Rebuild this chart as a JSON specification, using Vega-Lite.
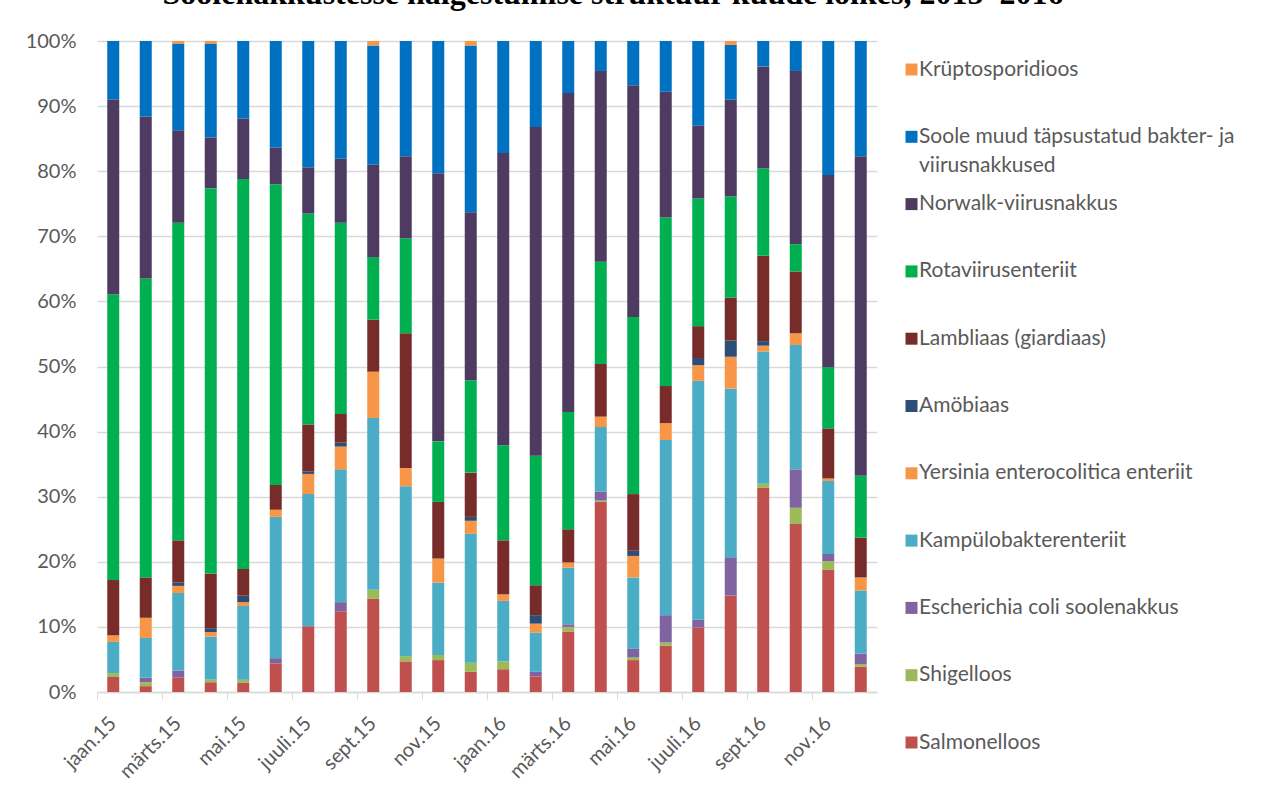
{
  "$schema": "https://vega.github.io/schema/vega-lite/v6.json",
  "width": 780,
  "height": 651,
  "autosize": {"type": "none"},
  "padding": {"left": 97, "top": 41, "right": 384, "bottom": 108},
  "background": "white",
  "title": {
    "text": "Soolenakkustesse haigestumise struktuur kuude lõikes, 2015–2016",
    "font": "Liberation Serif",
    "fontSize": 32,
    "fontWeight": "bold",
    "color": "black",
    "anchor": "middle",
    "dx": 126,
    "offset": 20
  },
  "data": {
    "values": [
      {"kuu": "jaan.15", "Salmonelloos": 2.3, "Shigelloos": 0.6, "Escherichia coli soolenakkus": 0, "Kampülobakterenteriit": 4.8, "Yersinia enterocolitica enteriit": 1.0, "Amöbiaas": 0, "Lambliaas (giardiaas)": 8.5, "Rotaviirusenteriit": 43.9, "Norwalk-viirusnakkus": 29.9, "Soole muud täpsustatud bakter- ja viirusnakkused": 9.0, "Krüptosporidioos": 0},
      {"kuu": "veebr.15", "Salmonelloos": 0.9, "Shigelloos": 0.6, "Escherichia coli soolenakkus": 0.7, "Kampülobakterenteriit": 6.1, "Yersinia enterocolitica enteriit": 3.1, "Amöbiaas": 0, "Lambliaas (giardiaas)": 6.2, "Rotaviirusenteriit": 45.9, "Norwalk-viirusnakkus": 24.9, "Soole muud täpsustatud bakter- ja viirusnakkused": 11.6, "Krüptosporidioos": 0},
      {"kuu": "märts.15", "Salmonelloos": 2.2, "Shigelloos": 0, "Escherichia coli soolenakkus": 1.1, "Kampülobakterenteriit": 11.9, "Yersinia enterocolitica enteriit": 1.1, "Amöbiaas": 0.5, "Lambliaas (giardiaas)": 6.5, "Rotaviirusenteriit": 48.8, "Norwalk-viirusnakkus": 14.2, "Soole muud täpsustatud bakter- ja viirusnakkused": 13.3, "Krüptosporidioos": 0.4},
      {"kuu": "apr.15", "Salmonelloos": 1.5, "Shigelloos": 0.4, "Escherichia coli soolenakkus": 0, "Kampülobakterenteriit": 6.6, "Yersinia enterocolitica enteriit": 0.7, "Amöbiaas": 0.6, "Lambliaas (giardiaas)": 8.4, "Rotaviirusenteriit": 59.2, "Norwalk-viirusnakkus": 7.8, "Soole muud täpsustatud bakter- ja viirusnakkused": 14.4, "Krüptosporidioos": 0.4},
      {"kuu": "mai.15", "Salmonelloos": 1.4, "Shigelloos": 0.5, "Escherichia coli soolenakkus": 0, "Kampülobakterenteriit": 11.3, "Yersinia enterocolitica enteriit": 0.6, "Amöbiaas": 1.0, "Lambliaas (giardiaas)": 4.1, "Rotaviirusenteriit": 59.9, "Norwalk-viirusnakkus": 9.3, "Soole muud täpsustatud bakter- ja viirusnakkused": 11.9, "Krüptosporidioos": 0},
      {"kuu": "juuni.15", "Salmonelloos": 4.4, "Shigelloos": 0, "Escherichia coli soolenakkus": 0.8, "Kampülobakterenteriit": 21.7, "Yersinia enterocolitica enteriit": 1.1, "Amöbiaas": 0, "Lambliaas (giardiaas)": 3.8, "Rotaviirusenteriit": 46.2, "Norwalk-viirusnakkus": 5.6, "Soole muud täpsustatud bakter- ja viirusnakkused": 16.4, "Krüptosporidioos": 0},
      {"kuu": "juuli.15", "Salmonelloos": 10.1, "Shigelloos": 0, "Escherichia coli soolenakkus": 0, "Kampülobakterenteriit": 20.3, "Yersinia enterocolitica enteriit": 3.1, "Amöbiaas": 0.4, "Lambliaas (giardiaas)": 7.2, "Rotaviirusenteriit": 32.4, "Norwalk-viirusnakkus": 7.1, "Soole muud täpsustatud bakter- ja viirusnakkused": 19.4, "Krüptosporidioos": 0},
      {"kuu": "aug.15", "Salmonelloos": 12.4, "Shigelloos": 0, "Escherichia coli soolenakkus": 1.4, "Kampülobakterenteriit": 20.4, "Yersinia enterocolitica enteriit": 3.5, "Amöbiaas": 0.6, "Lambliaas (giardiaas)": 4.4, "Rotaviirusenteriit": 29.4, "Norwalk-viirusnakkus": 9.8, "Soole muud täpsustatud bakter- ja viirusnakkused": 18.1, "Krüptosporidioos": 0},
      {"kuu": "sept.15", "Salmonelloos": 14.3, "Shigelloos": 1.4, "Escherichia coli soolenakkus": 0, "Kampülobakterenteriit": 26.4, "Yersinia enterocolitica enteriit": 7.1, "Amöbiaas": 0, "Lambliaas (giardiaas)": 8.0, "Rotaviirusenteriit": 9.6, "Norwalk-viirusnakkus": 14.2, "Soole muud täpsustatud bakter- ja viirusnakkused": 18.3, "Krüptosporidioos": 0.7},
      {"kuu": "okt.15", "Salmonelloos": 4.7, "Shigelloos": 0.8, "Escherichia coli soolenakkus": 0, "Kampülobakterenteriit": 26.1, "Yersinia enterocolitica enteriit": 2.8, "Amöbiaas": 0, "Lambliaas (giardiaas)": 20.7, "Rotaviirusenteriit": 14.6, "Norwalk-viirusnakkus": 12.6, "Soole muud täpsustatud bakter- ja viirusnakkused": 17.7, "Krüptosporidioos": 0},
      {"kuu": "nov.15", "Salmonelloos": 4.9, "Shigelloos": 0.8, "Escherichia coli soolenakkus": 0, "Kampülobakterenteriit": 11.1, "Yersinia enterocolitica enteriit": 3.7, "Amöbiaas": 0, "Lambliaas (giardiaas)": 8.7, "Rotaviirusenteriit": 9.3, "Norwalk-viirusnakkus": 41.2, "Soole muud täpsustatud bakter- ja viirusnakkused": 20.3, "Krüptosporidioos": 0},
      {"kuu": "dets.15", "Salmonelloos": 3.1, "Shigelloos": 1.4, "Escherichia coli soolenakkus": 0, "Kampülobakterenteriit": 19.8, "Yersinia enterocolitica enteriit": 2.0, "Amöbiaas": 0.6, "Lambliaas (giardiaas)": 6.8, "Rotaviirusenteriit": 14.2, "Norwalk-viirusnakkus": 25.8, "Soole muud täpsustatud bakter- ja viirusnakkused": 25.6, "Krüptosporidioos": 0.7},
      {"kuu": "jaan.16", "Salmonelloos": 3.5, "Shigelloos": 1.2, "Escherichia coli soolenakkus": 0, "Kampülobakterenteriit": 9.3, "Yersinia enterocolitica enteriit": 1.0, "Amöbiaas": 0, "Lambliaas (giardiaas)": 8.3, "Rotaviirusenteriit": 14.6, "Norwalk-viirusnakkus": 44.9, "Soole muud täpsustatud bakter- ja viirusnakkused": 17.2, "Krüptosporidioos": 0},
      {"kuu": "veebr.16", "Salmonelloos": 2.4, "Shigelloos": 0, "Escherichia coli soolenakkus": 0.7, "Kampülobakterenteriit": 6.0, "Yersinia enterocolitica enteriit": 1.4, "Amöbiaas": 1.3, "Lambliaas (giardiaas)": 4.6, "Rotaviirusenteriit": 19.9, "Norwalk-viirusnakkus": 50.5, "Soole muud täpsustatud bakter- ja viirusnakkused": 13.2, "Krüptosporidioos": 0},
      {"kuu": "märts.16", "Salmonelloos": 9.3, "Shigelloos": 0.7, "Escherichia coli soolenakkus": 0.4, "Kampülobakterenteriit": 8.7, "Yersinia enterocolitica enteriit": 0.8, "Amöbiaas": 0, "Lambliaas (giardiaas)": 5.1, "Rotaviirusenteriit": 18.0, "Norwalk-viirusnakkus": 49.0, "Soole muud täpsustatud bakter- ja viirusnakkused": 8.0, "Krüptosporidioos": 0},
      {"kuu": "apr.16", "Salmonelloos": 29.2, "Shigelloos": 0.2, "Escherichia coli soolenakkus": 1.4, "Kampülobakterenteriit": 9.9, "Yersinia enterocolitica enteriit": 1.6, "Amöbiaas": 0, "Lambliaas (giardiaas)": 8.1, "Rotaviirusenteriit": 15.7, "Norwalk-viirusnakkus": 29.3, "Soole muud täpsustatud bakter- ja viirusnakkused": 4.6, "Krüptosporidioos": 0},
      {"kuu": "mai.16", "Salmonelloos": 4.9, "Shigelloos": 0.4, "Escherichia coli soolenakkus": 1.4, "Kampülobakterenteriit": 10.9, "Yersinia enterocolitica enteriit": 3.3, "Amöbiaas": 0.8, "Lambliaas (giardiaas)": 8.7, "Rotaviirusenteriit": 27.2, "Norwalk-viirusnakkus": 35.6, "Soole muud täpsustatud bakter- ja viirusnakkused": 6.8, "Krüptosporidioos": 0},
      {"kuu": "juuni.16", "Salmonelloos": 7.1, "Shigelloos": 0.5, "Escherichia coli soolenakkus": 4.2, "Kampülobakterenteriit": 26.9, "Yersinia enterocolitica enteriit": 2.6, "Amöbiaas": 0, "Lambliaas (giardiaas)": 5.7, "Rotaviirusenteriit": 25.9, "Norwalk-viirusnakkus": 19.3, "Soole muud täpsustatud bakter- ja viirusnakkused": 7.8, "Krüptosporidioos": 0},
      {"kuu": "juuli.16", "Salmonelloos": 9.9, "Shigelloos": 0, "Escherichia coli soolenakkus": 1.2, "Kampülobakterenteriit": 36.7, "Yersinia enterocolitica enteriit": 2.4, "Amöbiaas": 1.1, "Lambliaas (giardiaas)": 4.9, "Rotaviirusenteriit": 19.6, "Norwalk-viirusnakkus": 11.2, "Soole muud täpsustatud bakter- ja viirusnakkused": 13.0, "Krüptosporidioos": 0},
      {"kuu": "aug.16", "Salmonelloos": 14.8, "Shigelloos": 0, "Escherichia coli soolenakkus": 5.9, "Kampülobakterenteriit": 25.9, "Yersinia enterocolitica enteriit": 4.9, "Amöbiaas": 2.5, "Lambliaas (giardiaas)": 6.6, "Rotaviirusenteriit": 15.5, "Norwalk-viirusnakkus": 14.9, "Soole muud täpsustatud bakter- ja viirusnakkused": 8.4, "Krüptosporidioos": 0.6},
      {"kuu": "sept.16", "Salmonelloos": 31.4, "Shigelloos": 0.6, "Escherichia coli soolenakkus": 0, "Kampülobakterenteriit": 20.3, "Yersinia enterocolitica enteriit": 0.9, "Amöbiaas": 0.7, "Lambliaas (giardiaas)": 13.1, "Rotaviirusenteriit": 13.4, "Norwalk-viirusnakkus": 15.7, "Soole muud täpsustatud bakter- ja viirusnakkused": 3.9, "Krüptosporidioos": 0},
      {"kuu": "okt.16", "Salmonelloos": 25.8, "Shigelloos": 2.5, "Escherichia coli soolenakkus": 5.9, "Kampülobakterenteriit": 19.1, "Yersinia enterocolitica enteriit": 1.8, "Amöbiaas": 0, "Lambliaas (giardiaas)": 9.5, "Rotaviirusenteriit": 4.2, "Norwalk-viirusnakkus": 26.6, "Soole muud täpsustatud bakter- ja viirusnakkused": 4.6, "Krüptosporidioos": 0},
      {"kuu": "nov.16", "Salmonelloos": 18.8, "Shigelloos": 1.3, "Escherichia coli soolenakkus": 1.1, "Kampülobakterenteriit": 11.2, "Yersinia enterocolitica enteriit": 0.4, "Amöbiaas": 0, "Lambliaas (giardiaas)": 7.7, "Rotaviirusenteriit": 9.4, "Norwalk-viirusnakkus": 29.5, "Soole muud täpsustatud bakter- ja viirusnakkused": 20.6, "Krüptosporidioos": 0},
      {"kuu": "dets.16", "Salmonelloos": 3.9, "Shigelloos": 0.4, "Escherichia coli soolenakkus": 1.6, "Kampülobakterenteriit": 9.7, "Yersinia enterocolitica enteriit": 2.0, "Amöbiaas": 0, "Lambliaas (giardiaas)": 6.1, "Rotaviirusenteriit": 9.5, "Norwalk-viirusnakkus": 49.1, "Soole muud täpsustatud bakter- ja viirusnakkused": 17.7, "Krüptosporidioos": 0}
    ]
  },
  "transform": [
    {"fold": ["Salmonelloos", "Shigelloos", "Escherichia coli soolenakkus", "Kampülobakterenteriit", "Yersinia enterocolitica enteriit", "Amöbiaas", "Lambliaas (giardiaas)", "Rotaviirusenteriit", "Norwalk-viirusnakkus", "Soole muud täpsustatud bakter- ja viirusnakkused", "Krüptosporidioos"], "as": ["haigus", "osakaal"]},
    {"calculate": "indexof(['Salmonelloos', 'Shigelloos', 'Escherichia coli soolenakkus', 'Kampülobakterenteriit', 'Yersinia enterocolitica enteriit', 'Amöbiaas', 'Lambliaas (giardiaas)', 'Rotaviirusenteriit', 'Norwalk-viirusnakkus', 'Soole muud täpsustatud bakter- ja viirusnakkused', 'Krüptosporidioos'], datum.haigus)", "as": "jrk"}
  ],
  "mark": {"type": "bar", "width": 12},
  "encoding": {
    "x": {
      "field": "kuu",
      "type": "ordinal",
      "sort": null,
      "title": null,
      "scale": {"paddingInner": 0, "paddingOuter": 0},
      "axis": {
        "values": ["jaan.15", "märts.15", "mai.15", "juuli.15", "sept.15", "nov.15", "jaan.16", "märts.16", "mai.16", "juuli.16", "sept.16", "nov.16"],
        "bandPosition": 0,
        "labelAngle": -45,
        "labelAlign": "right",
        "labelBaseline": "middle",
        "labelPadding": 21,
        "labelFont": "Lato",
        "labelFontSize": 20,
        "labelColor": "#595959",
        "tickSize": 7,
        "tickColor": "#d9d9d9",
        "domainColor": "#d9d9d9",
        "domainWidth": 1.3,
        "grid": false
      }
    },
    "y": {
      "field": "osakaal",
      "type": "quantitative",
      "stack": "normalize",
      "title": null,
      "scale": {"domain": [0, 1]},
      "axis": {
        "format": ".0%",
        "values": [0, 0.1, 0.2, 0.3, 0.4, 0.5, 0.6, 0.7, 0.8, 0.9, 1],
        "domain": false,
        "ticks": false,
        "grid": true,
        "gridColor": "#d9d9d9",
        "gridWidth": 1.3,
        "labelPadding": 21,
        "labelFont": "Lato",
        "labelFontSize": 20,
        "labelColor": "#595959"
      }
    },
    "color": {
      "field": "haigus",
      "type": "nominal",
      "scale": {
        "domain": ["Krüptosporidioos", "Soole muud täpsustatud bakter- ja viirusnakkused", "Norwalk-viirusnakkus", "Rotaviirusenteriit", "Lambliaas (giardiaas)", "Amöbiaas", "Yersinia enterocolitica enteriit", "Kampülobakterenteriit", "Escherichia coli soolenakkus", "Shigelloos", "Salmonelloos"],
        "range": ["#F79646", "#0070C0", "#4D3B62", "#00B050", "#772C2A", "#2C4D75", "#F79646", "#4BACC6", "#8064A2", "#9BBB59", "#C0504D"]
      },
      "legend": {
        "orient": "none",
        "legendX": 804,
        "legendY": 18,
        "title": null,
        "padding": 0,
        "symbolType": "square",
        "symbolSize": 144,
        "symbolStrokeWidth": 0,
        "labelFont": "Lato",
        "labelFontSize": 21,
        "labelColor": "#595959",
        "labelOffset": -3,
        "labelLimit": 400,
        "rowPadding": 16.3,
        "labelExpr": "datum.label == 'Soole muud täpsustatud bakter- ja viirusnakkused' ? ['Soole muud täpsustatud bakter- ja', 'viirusnakkused'] : [datum.label, '']"
      }
    },
    "order": {"field": "jrk", "type": "quantitative", "sort": "ascending"}
  },
  "config": {
    "view": {"stroke": null},
    "style": {"guide-label": {"lineHeight": 29}}
  }
}
